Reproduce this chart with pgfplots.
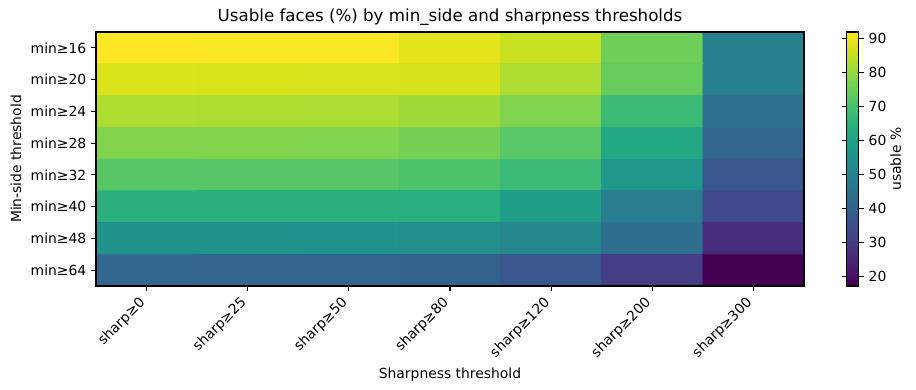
\documentclass[border=0pt]{standalone}
\usepackage{pgfplots}
\pgfplotsset{compat=1.18}
\usepackage{pgfplotstable}
\usepackage{fontspec}
\setmainfont{DejaVu Sans}
\pgfplotstableread{
x y z
0 0 92.0
1 0 91.9
2 0 91.8
3 0 89.0
4 0 86.0
5 0 75.5
6 0 50.0
0 1 88.0
1 1 87.9
2 1 87.8
3 1 87.5
4 1 83.0
5 1 74.8
6 1 49.5
0 2 83.0
1 2 82.9
2 2 82.8
3 2 81.5
4 2 77.8
5 2 68.0
6 2 45.0
0 3 78.0
1 3 77.9
2 3 77.8
3 3 76.5
4 3 72.6
5 3 62.0
6 3 42.0
0 4 72.5
1 4 72.4
2 4 72.3
3 4 71.0
4 4 68.0
5 4 57.0
6 4 37.5
0 5 65.0
1 5 64.9
2 5 64.8
3 5 64.0
4 5 59.0
5 5 48.7
6 5 33.8
0 6 56.0
1 6 55.9
2 6 55.8
3 6 54.7
4 6 51.7
5 6 44.0
6 6 27.0
0 7 41.7
1 7 41.6
2 7 41.5
3 7 40.5
4 7 37.5
5 7 30.8
6 7 17.3
}\datatable
\begin{document}
\begin{tikzpicture}
\path[use as bounding box] (-69.12bp,-74.88bp) rectangle (590.4bp,205.92bp);
\begin{axis}[
  at={(0,0)}, anchor=south west,
  scale only axis,
  axis on top,
  width=509.76bp, height=182.88bp,
  xmin=-0.5, xmax=6.5, ymin=-0.5, ymax=7.5,
  y dir=reverse,
  xtick={0,...,6},
  xticklabels={sharp≥0,sharp≥25,sharp≥50,sharp≥80,sharp≥120,sharp≥200,sharp≥300},
  ytick={0,...,7},
  yticklabels={min≥16,min≥20,min≥24,min≥28,min≥32,min≥40,min≥48,min≥64},
  xticklabel style={xshift=-6bp, yshift=-2bp, rotate=45, anchor=north east, font=\fontsize{10bp}{12bp}\selectfont, inner sep=1bp},
  yticklabel style={font=\fontsize{10bp}{12bp}\selectfont},
  tick align=outside,
  major tick length=3.5bp,
  tick style={black, line width=0.8bp},
  axis line style={line width=0.8bp},
  xtick pos=bottom, ytick pos=left,
  title={Usable faces (\%) by min\_side and sharpness thresholds},
  title style={font=\fontsize{12bp}{14bp}\selectfont, yshift=-5bp},
  xlabel={Sharpness threshold},
  ylabel={Min-side threshold},
  label style={font=\fontsize{10bp}{12bp}\selectfont},
  xlabel style={yshift=-1bp},
  colormap/viridis,
  point meta min=17.3, point meta max=92.0,
  colorbar,
  colorbar style={
    at={(parent axis.north east)}, anchor=north west, xshift=22.4bp,
    width=8.64bp,
    ytick={20,30,...,90},
    yticklabel pos=right,
    tick align=outside,
    major tick length=3.5bp,
    tick style={black, line width=0.8bp},
    axis line style={line width=0.8bp},
    yticklabel style={font=\fontsize{10bp}{12bp}\selectfont},
    /pgf/number format/assume math mode=true,
    ylabel={usable \%},
    ylabel shift=-4bp,
    ylabel style={font=\fontsize{10bp}{12bp}\selectfont},
  },
]
\addplot[matrix plot*, mesh/cols=7, mesh/rows=8, point meta=explicit] table[x=x, y=y, meta=z] {\datatable};
\end{axis}
\end{tikzpicture}
\end{document}
